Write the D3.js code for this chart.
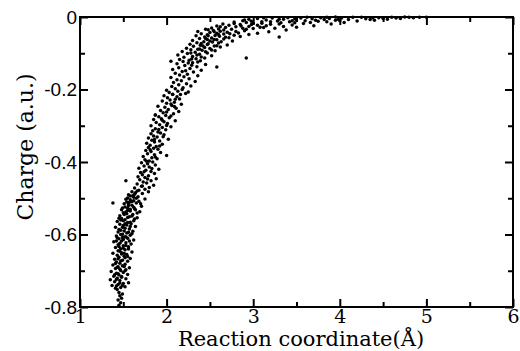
<!DOCTYPE html>
<html>
<head>
<meta charset="utf-8">
<script src="https://cdn.jsdelivr.net/npm/d3@7"></script>
<style>
  body { margin: 0; background: #fff; }
  svg { display: block; }
</style>
</head>
<body>
<svg id="chart"></svg>
<script>
// tick labels
const xTicks = [1, 2, 3, 4, 5, 6];
const xMinorTicks = [1.5, 2.5, 3.5, 4.5, 5.5];
const yTicks = [-0.8, -0.6, -0.4, -0.2, 0];
const yMinorTicks = [-0.7, -0.5, -0.3, -0.1];

// [reaction coordinate, charge]
const lowerBand = [
  [1.45,-0.795],[1.47,-0.788],[1.44,-0.781],[1.48,-0.776],[1.46,-0.769],[1.49,-0.764],[1.45,-0.760],
  [1.41,-0.748],[1.47,-0.746],[1.52,-0.744],[1.37,-0.741],[1.44,-0.738],[1.50,-0.735],[1.56,-0.733],[1.40,-0.730],[1.46,-0.727],[1.35,-0.725],[1.53,-0.722],[1.43,-0.721],
  [1.48,-0.718],[1.39,-0.715],[1.45,-0.712],[1.55,-0.710],[1.42,-0.707],[1.50,-0.705],[1.36,-0.702],[1.47,-0.699],[1.53,-0.697],[1.41,-0.694],[1.57,-0.692],[1.44,-0.689],[1.49,-0.686],[1.38,-0.684],[1.52,-0.682],
  [1.46,-0.679],[1.42,-0.676],[1.55,-0.674],[1.49,-0.671],[1.40,-0.668],[1.58,-0.666],[1.45,-0.663],[1.51,-0.660],[1.43,-0.657],[1.54,-0.655],[1.38,-0.652],[1.48,-0.650],[1.60,-0.648],[1.44,-0.645],[1.52,-0.642],
  [1.47,-0.639],[1.41,-0.636],[1.56,-0.634],[1.50,-0.631],[1.44,-0.628],[1.59,-0.626],[1.53,-0.623],[1.39,-0.620],[1.48,-0.618],[1.62,-0.615],[1.45,-0.612],[1.55,-0.610],[1.51,-0.607],[1.42,-0.604],[1.58,-0.602],
  [1.49,-0.599],[1.54,-0.596],[1.44,-0.593],[1.61,-0.591],[1.47,-0.588],[1.57,-0.585],[1.52,-0.583],[1.41,-0.580],[1.64,-0.578],[1.50,-0.575],[1.46,-0.572],[1.59,-0.570],[1.55,-0.567],[1.43,-0.564],[1.62,-0.562],
  [1.52,-0.559],[1.48,-0.556],[1.66,-0.554],[1.57,-0.551],[1.46,-0.548],[1.61,-0.545],[1.54,-0.543],[1.50,-0.540],[1.69,-0.537],[1.58,-0.535],[1.48,-0.532],[1.63,-0.529],[1.55,-0.527],[1.52,-0.524],[1.71,-0.522],
  [1.60,-0.519],[1.56,-0.516],[1.38,-0.513],[1.65,-0.513],[1.54,-0.510],[1.62,-0.507],[1.58,-0.504],[1.75,-0.502],[1.55,-0.499],[1.67,-0.496],[1.61,-0.493],[1.56,-0.490],[1.72,-0.487],[1.64,-0.485],[1.79,-0.482]
];

const lowerCore = [
  [1.43,-0.752],[1.46,-0.734],[1.42,-0.724],[1.48,-0.716],[1.44,-0.708],[1.46,-0.695],[1.43,-0.690],[1.51,-0.688],[1.47,-0.673],[1.44,-0.667],
  [1.52,-0.664],[1.48,-0.654],[1.46,-0.646],[1.50,-0.638],[1.53,-0.630],[1.46,-0.624],[1.50,-0.614],[1.53,-0.606],[1.47,-0.600],[1.56,-0.594],
  [1.51,-0.590],[1.49,-0.580],[1.54,-0.574],[1.58,-0.566],[1.50,-0.562],[1.55,-0.553],[1.60,-0.549],[1.53,-0.538],[1.58,-0.530],[1.62,-0.525],
  [1.56,-0.520],[1.60,-0.509],[1.65,-0.500],[1.58,-0.494],[1.63,-0.489],[1.66,-0.480],[1.42,-0.742],[1.49,-0.741],[1.40,-0.711],[1.52,-0.700],
  [1.41,-0.680],[1.55,-0.661],[1.45,-0.633],[1.57,-0.618],[1.43,-0.609],[1.60,-0.598],[1.45,-0.586],[1.52,-0.570],[1.47,-0.560],[1.63,-0.557],
  [1.51,-0.545],[1.66,-0.541],[1.55,-0.534],[1.49,-0.527],[1.57,-0.511],[1.68,-0.508],[1.53,-0.503],[1.62,-0.497],
  [1.51,-0.652],[1.56,-0.640],[1.42,-0.618],[1.49,-0.608],[1.58,-0.578],[1.45,-0.555],[1.64,-0.532],[1.51,-0.515],[1.70,-0.515],[1.60,-0.482]
];

const middleBand = [
  [1.68,-0.478],[1.75,-0.475],[1.63,-0.472],[1.80,-0.470],[1.71,-0.467],[1.85,-0.464],[1.66,-0.461],[1.77,-0.458],[1.53,-0.452],[1.73,-0.455],[1.82,-0.452],[1.69,-0.449],[1.88,-0.446],[1.75,-0.443],[1.67,-0.441],
  [1.79,-0.438],[1.72,-0.435],[1.86,-0.432],[1.70,-0.429],[1.82,-0.426],[1.76,-0.423],[1.91,-0.420],[1.68,-0.417],[1.80,-0.414],[1.74,-0.411],[1.87,-0.408],[1.78,-0.405],[1.71,-0.402],[1.84,-0.400],
  [1.80,-0.397],[1.75,-0.394],[1.89,-0.391],[1.83,-0.388],[1.73,-0.385],[2.00,-0.382],[1.86,-0.380],[1.78,-0.377],[1.93,-0.374],[1.82,-0.371],[1.76,-0.368],[1.90,-0.365],[1.85,-0.362],[1.79,-0.360],
  [1.88,-0.357],[1.81,-0.354],[1.95,-0.351],[1.77,-0.348],[1.86,-0.345],[1.92,-0.342],[1.83,-0.340],[2.02,-0.337],[1.79,-0.334],[1.89,-0.331],[1.85,-0.328],[1.97,-0.325],[1.82,-0.322],[1.93,-0.320],
  [1.90,-0.317],[1.84,-0.314],[1.99,-0.311],[1.87,-0.308],[1.95,-0.305],[2.05,-0.303],[1.82,-0.300],[1.92,-0.297],[2.01,-0.294],[1.88,-0.291],[1.97,-0.289],[2.10,-0.286],[1.85,-0.283],[1.94,-0.281],
  [2.03,-0.278],[1.91,-0.275],[1.99,-0.272],[1.87,-0.270],[2.08,-0.267],[1.96,-0.264],[2.14,-0.261],[1.93,-0.258],[2.02,-0.255],[2.11,-0.252],[1.98,-0.249],[1.90,-0.246],[2.06,-0.244],[2.17,-0.241],
  [2.00,-0.238],[2.09,-0.235],[1.95,-0.232],[2.04,-0.229],[2.15,-0.226],[2.01,-0.223],[2.12,-0.220],[1.97,-0.217],[2.07,-0.214],[2.22,-0.211],[2.03,-0.208],[2.13,-0.205],[2.00,-0.202],[2.18,-0.200],[2.25,-0.207],
  [1.72,-0.466],[1.78,-0.447],[1.74,-0.427],[1.83,-0.418],[1.77,-0.398],[1.87,-0.386],[1.81,-0.366],[1.92,-0.356],[1.86,-0.338],[1.96,-0.330],
  [1.91,-0.310],[2.00,-0.299],[1.95,-0.285],[2.05,-0.273],[2.00,-0.262],[2.09,-0.247],[2.05,-0.240],[2.10,-0.227],[2.07,-0.213],[2.16,-0.214],[1.87,-0.270]
];

const upperBend = [
  [2.10,-0.198],[2.19,-0.195],[2.06,-0.192],[2.28,-0.190],[2.14,-0.187],[2.23,-0.184],[2.08,-0.181],[2.33,-0.178],[2.17,-0.176],[2.12,-0.173],[2.26,-0.170],[2.05,-0.167],[2.20,-0.165],[2.36,-0.162],[2.15,-0.160],
  [2.24,-0.158],[2.10,-0.155],[2.31,-0.152],[2.18,-0.150],[2.40,-0.147],[2.07,-0.145],[2.27,-0.142],[2.58,-0.138],[2.14,-0.140],[2.35,-0.137],[2.21,-0.134],[2.45,-0.131],[2.12,-0.129],[2.30,-0.126],[2.19,-0.123],[2.39,-0.121],[2.05,-0.122],
  [2.26,-0.119],[2.15,-0.117],[2.34,-0.115],[2.44,-0.113],[2.92,-0.113],[2.20,-0.111],[2.30,-0.109],[2.52,-0.107],[2.13,-0.105],[2.38,-0.103],[2.24,-0.101],[2.47,-0.099],[2.33,-0.097],[2.18,-0.095],[2.56,-0.093],[2.41,-0.092],[2.28,-0.090],
  [2.36,-0.089],[2.50,-0.087],[2.23,-0.086],[2.44,-0.084],[2.62,-0.083],[2.31,-0.081],[2.55,-0.080],[2.39,-0.078],[2.70,-0.077],[2.27,-0.075],[2.48,-0.074],[2.60,-0.072],[2.35,-0.071],[2.53,-0.069],[2.43,-0.068],[2.76,-0.066],[2.30,-0.065],[2.58,-0.063],[2.47,-0.062],[2.66,-0.061],
  [2.38,-0.059],[2.52,-0.058],[2.72,-0.057],[2.44,-0.055],[2.85,-0.054],[2.61,-0.053],[3.30,-0.055],[2.34,-0.052],[2.56,-0.051],[2.78,-0.050],[2.47,-0.049],[2.95,-0.048],[2.66,-0.047],[2.40,-0.046],[2.58,-0.045],[3.05,-0.045],[2.83,-0.044],[2.50,-0.043],[2.70,-0.042],[3.18,-0.041],[2.36,-0.040],[2.62,-0.039],[2.90,-0.038],[2.54,-0.037],[3.38,-0.036],
  [2.22,-0.148],[2.29,-0.133],[2.25,-0.127],[2.36,-0.124],[2.29,-0.116],[2.40,-0.110],[2.35,-0.105],[2.28,-0.099],[2.45,-0.096],[2.38,-0.088],[2.52,-0.091],[2.42,-0.080],[2.47,-0.076],[2.58,-0.079],[2.40,-0.073],[2.50,-0.066],[2.63,-0.068],[2.45,-0.059],[2.55,-0.062],[2.68,-0.056],
  [2.48,-0.052],[2.60,-0.048],[2.73,-0.046],[2.55,-0.041],[2.80,-0.040],[2.66,-0.036],[2.48,-0.035]
];

const plateau = [
  [2.45,-0.034],[2.75,-0.034],[2.60,-0.033],[3.00,-0.032],[2.88,-0.031],[3.25,-0.031],[2.52,-0.030],[2.68,-0.029],[3.12,-0.029],[3.50,-0.028],[2.80,-0.027],[2.95,-0.026],[3.35,-0.026],[2.58,-0.025],[3.70,-0.024],[3.05,-0.023],[2.72,-0.023],[3.45,-0.022],[2.85,-0.021],[3.20,-0.020],[3.90,-0.019],[2.65,-0.019],[3.58,-0.018],[3.00,-0.017],[3.32,-0.016],[2.92,-0.015],[4.05,-0.015],
  [2.78,-0.014],[3.10,-0.013],[3.42,-0.013],[3.75,-0.012],[2.98,-0.012],[4.20,-0.011],[3.28,-0.011],[3.60,-0.010],[2.88,-0.010],[3.95,-0.009],[4.40,-0.009],[3.15,-0.008],[3.50,-0.008],[3.82,-0.007],[4.10,-0.007],[2.95,-0.006],[3.35,-0.006],[4.55,-0.006],[3.68,-0.005],[4.30,-0.005],[3.05,-0.004],[3.88,-0.004],[4.70,-0.004],
  [3.22,-0.003],[3.55,-0.003],[4.02,-0.003],[4.45,-0.002],[3.40,-0.002],[3.78,-0.002],[4.85,-0.002],[4.15,-0.001],[3.62,-0.001],[4.60,-0.001],[5.00,-0.001],[4.25,-0.001],[3.95,0.000],[4.75,0.000],[4.92,-0.001],
  [2.92,-0.034],[3.08,-0.028],[2.62,-0.027],[2.86,-0.025],[3.15,-0.024],[2.98,-0.021],[3.30,-0.019],[2.78,-0.018],[3.10,-0.017],[3.48,-0.016],[3.66,-0.015],[3.85,-0.013],[3.20,-0.013],[2.90,-0.008],[3.45,-0.010],[3.72,-0.009],[4.00,-0.010],
  [3.30,-0.006],[3.98,-0.006],[4.35,-0.007],[4.50,-0.004],[3.12,-0.002],[3.48,-0.005],[3.85,-0.001],[4.38,-0.002],[4.65,-0.003],[4.80,-0.001]
];

const points = [...lowerBand, ...lowerCore, ...middleBand, ...upperBend, ...plateau];

const margin = { top: 17, right: 7, bottom: 44, left: 80 },
    width = 520 - margin.left - margin.right,
    height = 351 - margin.top - margin.bottom;

const svg = d3.select("#chart")
    .attr("width", 520)
    .attr("height", 351);

const g = svg.append("g")
    .attr("transform", `translate(${margin.left}, ${margin.top})`);

const x = d3.scaleLinear().domain([1, 6]).range([0, width]);
const y = d3.scaleLinear().domain([-0.8, 0]).range([height, 0]);

// points
g.append("g")
    .selectAll("circle")
    .data(points)
    .join("circle")
    .attr("cx", d => x(d[0]))
    .attr("cy", d => y(d[1]))
    .attr("r", 1.75)
    .attr("fill", "#000");

// axes, ticks pointing inward on all four sides
function styleAxis(sel) {
    sel.select(".domain").remove();
    sel.selectAll(".tick line").attr("stroke", "#000").attr("stroke-width", 2);
}

const bottom = g.append("g")
    .attr("transform", `translate(0, ${height})`)
    .call(d3.axisBottom(x).tickValues(xTicks).tickSize(-8).tickPadding(2).tickFormat(d3.format("d")));
bottom.call(styleAxis);
bottom.selectAll("text")
    .attr("fill", "#000")
    .style("font-family", "'DejaVu Serif', serif")
    .style("font-size", "19px");

g.append("g")
    .attr("transform", `translate(0, ${height})`)
    .call(d3.axisBottom(x).tickValues(xMinorTicks).tickSize(-5).tickFormat(""))
    .call(styleAxis);

g.append("g")
    .call(d3.axisTop(x).tickValues(xTicks).tickSize(-8).tickFormat(""))
    .call(styleAxis);
g.append("g")
    .call(d3.axisTop(x).tickValues(xMinorTicks).tickSize(-5).tickFormat(""))
    .call(styleAxis);

const left = g.append("g")
    .call(d3.axisLeft(y).tickValues(yTicks).tickSize(-8).tickPadding(3)
        .tickFormat(d => d === 0 ? "0" : d3.format(".1f")(d).replace("−", "-")));
left.call(styleAxis);
left.selectAll("text")
    .attr("fill", "#000")
    .style("font-family", "'Liberation Sans', Arial, sans-serif")
    .style("font-size", "19px");

g.append("g")
    .call(d3.axisLeft(y).tickValues(yMinorTicks).tickSize(-5).tickFormat(""))
    .call(styleAxis);

g.append("g")
    .attr("transform", `translate(${width}, 0)`)
    .call(d3.axisRight(y).tickValues(yTicks).tickSize(-8).tickFormat(""))
    .call(styleAxis);
g.append("g")
    .attr("transform", `translate(${width}, 0)`)
    .call(d3.axisRight(y).tickValues(yMinorTicks).tickSize(-5).tickFormat(""))
    .call(styleAxis);

// frame
g.append("rect")
    .attr("width", width)
    .attr("height", height)
    .attr("fill", "none")
    .attr("stroke", "#000")
    .attr("stroke-width", 2);

// axis titles
svg.append("text")
    .attr("x", 301)
    .attr("y", 346)
    .attr("text-anchor", "middle")
    .style("font-family", "'DejaVu Serif', serif")
    .style("font-size", "21px")
    .text("Reaction coordinate(Å)");

svg.append("text")
    .attr("transform", `translate(33, ${margin.top + 130}) rotate(-90)`)
    .attr("text-anchor", "middle")
    .style("font-family", "'DejaVu Serif', serif")
    .style("font-size", "22px")
    .text("Charge (a.u.)");
</script>
</body>
</html>
